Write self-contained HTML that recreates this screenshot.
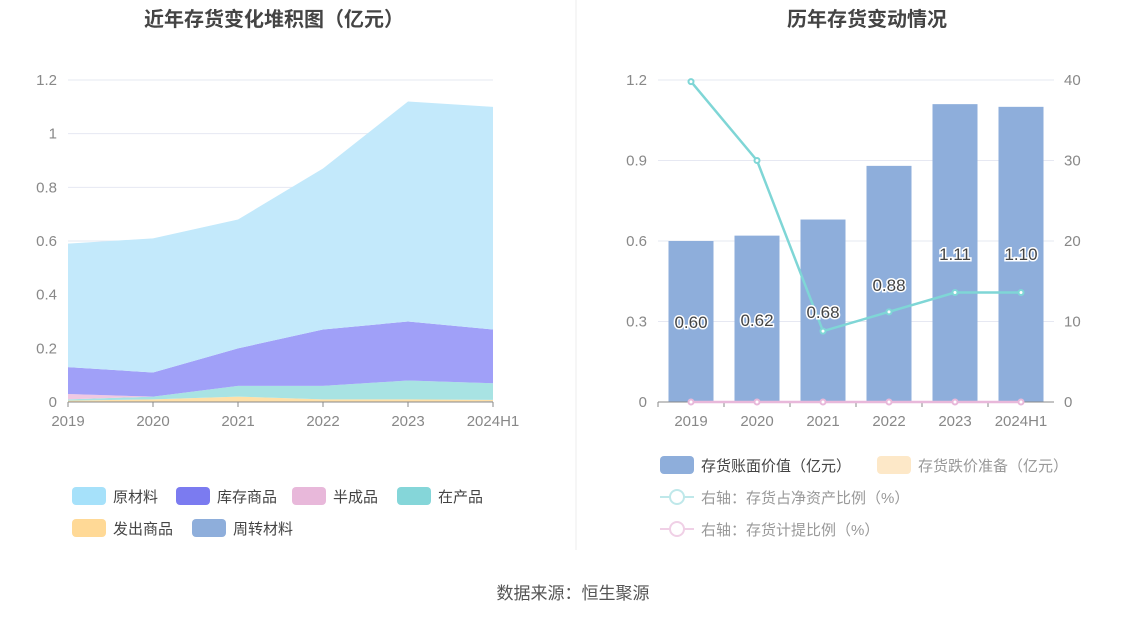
<!DOCTYPE html>
<html><head><meta charset="utf-8">
<style>
body{margin:0;background:#fff;font-family:"Liberation Sans","Noto Sans CJK SC",sans-serif;}
svg text{font-family:"Liberation Sans","Noto Sans CJK SC",sans-serif;}
</style></head>
<body>
<svg id="s" width="1147" height="619" viewBox="0 0 1147 619" xmlns="http://www.w3.org/2000/svg">
<text x="274" y="26" text-anchor="middle" font-size="20" font-weight="bold" fill="#444">近年存货变化堆积图（亿元）</text>
<text x="867" y="26" text-anchor="middle" font-size="20" font-weight="bold" fill="#444">历年存货变动情况</text>
<line x1="576" y1="0" x2="576" y2="550" stroke="#eee"/>
<g id="L"></g>
<g id="R"></g>
<text x="573" y="599" text-anchor="middle" font-size="17" fill="#555">数据来源：恒生聚源</text>
</svg>
<script>
const NS='http://www.w3.org/2000/svg';
const categories=['2019','2020','2021','2022','2023','2024H1'];
const zhouzhuan=[0,0,0,0,0,0.003];
const fachu=[0.005,0.01,0.02,0.01,0.01,0.005];
const zaichan=[0.005,0.01,0.04,0.05,0.07,0.062];
const banchengpin=[0.02,0.0,0,0,0,0];
const kucun=[0.10,0.09,0.14,0.21,0.22,0.20];
const yuancailiao=[0.46,0.50,0.48,0.60,0.82,0.83];
const leftTicks=[0,0.2,0.4,0.6,0.8,1,1.2];
const bookValue=[0.60,0.62,0.68,0.88,1.11,1.10];
const bookLabels=['0.60','0.62','0.68','0.88','1.11','1.10'];
const ratioNetAsset=[39.8,30,8.8,11.2,13.6,13.6];
const provisionRatio=[0,0,0,0,0,0];
const rightLeftTicks=[0,0.3,0.6,0.9,1.2];
const rightRightTicks=[0,10,20,30,40];

function mk(tag,attrs,parent,txt){const e=document.createElementNS(NS,tag);for(const k in attrs)e.setAttribute(k,attrs[k]);if(txt!==undefined)e.textContent=txt;parent.appendChild(e);return e;}
const L=document.getElementById('L'),R=document.getElementById('R');
// left axes
const lx=i=>68+i*(493-68)/(categories.length-1);
const ly=v=>402-v/1.2*322;
leftTicks.forEach(t=>{
 const g=mk('line',{x1:68,x2:493,y1:ly(t),y2:ly(t),stroke:'#e6e8f2'},L);
 
 const tx=mk('text',{x:57,y:ly(t)+5,'text-anchor':'end','font-size':15,fill:'#888'},L,String(t));
 
});
const layers=[[zhouzhuan,'#8eaedb','zhouzhuan'],[fachu,'#ffe0a8','fachu'],[zaichan,'#a8e3e3','zaichan'],[banchengpin,'#f0c8e2','banchengpin'],[kucun,'#a0a0f8','kucun'],[yuancailiao,'#c3e9fb','yuancailiao']];
let base=categories.map(()=>0);
layers.forEach(([arr,col,nm])=>{
 const top=base.map((b,i)=>b+arr[i]);
 let d='M'+top.map((v,i)=>lx(i)+','+ly(v)).join(' L');
 for(let i=categories.length-1;i>=0;i--)d+=' L'+lx(i)+','+ly(base[i]);
 const p=mk('path',{d:d+'Z',fill:col},L);
 
 base=top;
});
mk('line',{x1:68,x2:493,y1:402,y2:402,stroke:'#888'},L);
categories.forEach((c,i)=>{
 mk('line',{x1:lx(i),x2:lx(i),y1:402,y2:407,stroke:'#888'},L);
 const t=mk('text',{x:lx(i),y:426,'text-anchor':'middle','font-size':15,fill:'#888'},L,c);
 
});
// left legend
const legL=[['原材料','#a6e1fa',72,496],['库存商品','#7b7bf0',176,496],['半成品','#e8b8da',292,496],['在产品','#85d6d9',397,496],['发出商品','#ffd996',72,528],['周转材料','#8eaedb',192,528]];
legL.forEach(([n,c,x,y])=>{
 const r=mk('rect',{x:x,y:y-9,width:34,height:18,rx:4,fill:c},L);
 
 const t=mk('text',{x:x+41,y:y+6,'font-size':15,fill:'#444'},L,n);
 
});
// right chart
const bw=(1054-658)/categories.length;
const rx=i=>658+bw*(i+0.5);
const ry=v=>402-v/1.2*322;
const ry2=v=>402-v/40*322;
rightLeftTicks.forEach((t,k)=>{
 mk('line',{x1:658,x2:1054,y1:ry(t),y2:ry(t),stroke:'#e6e8f2'},R);
 const a=mk('text',{x:647,y:ry(t)+5,'text-anchor':'end','font-size':15,fill:'#888'},R,String(t));
 
 const b=mk('text',{x:1064,y:ry2(rightRightTicks[k])+5,'font-size':15,fill:'#888'},R,String(rightRightTicks[k]));
 
});
bookValue.forEach((v,i)=>{
 const r=mk('rect',{x:rx(i)-22.5,y:ry(v),width:45,height:402-ry(v),fill:'#8eaedb'},R);
 
});
mk('line',{x1:658,x2:1054,y1:402,y2:402,stroke:'#888'},R);
categories.forEach((c,i)=>{
 mk('line',{x1:658+bw*i,x2:658+bw*i,y1:402,y2:407,stroke:'#888'},R);
 const t=mk('text',{x:rx(i),y:426,'text-anchor':'middle','font-size':15,fill:'#888'},R,c);
 
});
function line(arr,col,nm,r){
 const p=mk('polyline',{points:arr.map((v,i)=>rx(i)+','+ry2(v)).join(' '),fill:'none',stroke:col,'stroke-width':2.5},R);
 
 arr.forEach((v,i)=>{const c=mk('circle',{cx:rx(i),cy:ry2(v),r:r,fill:'#fff',stroke:col,'stroke-width':2},R);
 });
}
line(provisionRatio,'#e8b8da','provision-ratio-line',2.5);
line(ratioNetAsset,'#7fd6d6','net-asset-ratio-line',2.5);
bookValue.forEach((v,i)=>{
 const y=[322,320,312,285,254,254][i];
 const t=mk('text',{x:rx(i),y:y+6,'text-anchor':'middle','font-size':17,fill:'#444',stroke:'#fff','stroke-width':3,'paint-order':'stroke'},R,bookLabels[i]);
 
});
// right legend
[['存货账面价值（亿元）','#8eaedb',660,465,'#444'],['存货跌价准备（亿元）','#fde8c8',877,465,'#999']].forEach(([n,c,x,y,tc])=>{
 const r=mk('rect',{x:x,y:y-9,width:34,height:18,rx:4,fill:c},R);
 
 const t=mk('text',{x:x+41,y:y+6,'font-size':15,fill:tc},R,n);
 
});
[['右轴：存货占净资产比例（%）','#bfe8ea',497],['右轴：存货计提比例（%）','#f0d0e6',529]].forEach(([n,c,y])=>{
 mk('line',{x1:660,x2:694,y1:y,y2:y,stroke:c,'stroke-width':2},R);
 mk('circle',{cx:677,cy:y,r:7,fill:'#fff',stroke:c,'stroke-width':2},R);
 const t=mk('text',{x:701,y:y+6,'font-size':15,fill:'#999'},R,n);
 
});
</script>
</body></html>
